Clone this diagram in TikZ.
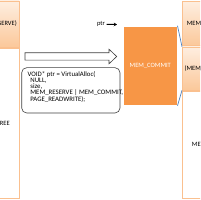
\documentclass[tikz,border=0pt]{standalone}
\usepackage{fontspec}
\setmainfont{Carlito}
\usetikzlibrary{arrows.meta}
\definecolor{gradtop}{HTML}{FEEEE0}
\definecolor{gradbot}{HTML}{FBC89A}
\definecolor{lightor}{HTML}{FAC08F}
\definecolor{commitor}{HTML}{F79646}
\definecolor{linkblue}{HTML}{4F81BD}
\definecolor{darkline}{HTML}{404040}
\begin{document}
\begin{tikzpicture}[x=1pt,y=-1pt,
  txt/.style={font=\fontsize{6.5}{6}\selectfont, text=black},
  codetxt/.style={font=\fontsize{6.8}{6}\selectfont, text=black},
  gradbox/.style={txt, draw=lightor, line width=0.6pt, top color=gradtop, bottom color=gradbot, minimum width=49.7pt, inner sep=0pt},
  plainbox/.style={txt, draw=lightor, line width=0.8pt, fill=white, minimum width=49.7pt, inner sep=0pt},
  commitbox/.style={txt, text=white, fill=commitor, draw=white, line width=0.4pt, minimum width=54pt, minimum height=79.5pt, inner sep=0pt},
  codebox/.style={draw=darkline, line width=0.6pt, fill=white, rounded corners=5pt, minimum width=98.3pt, minimum height=45.3pt, inner sep=0pt},
  hollow/.style={draw=darkline, line width=0.6pt, fill=white},
  link/.style={draw=linkblue, line width=0.7pt},
  ptrarrow/.style={draw=black, line width=0.9pt, -{Stealth[length=3.2pt,width=3.6pt]}}
]
\useasboundingbox (0,0) rectangle (200,200);
\clip (0,0) rectangle (200,200);
% left column
\node[gradbox, minimum height=46pt] (ltop) at (-5.5,24) {(MEM\_RESERVE)};
\node[plainbox, minimum height=150pt] (lbot) at (-5.5,123.5) {MEM\_FREE};
% right column
\node[gradbox, minimum height=44.3pt] (rtop) at (207.15,23.65) {MEM\_RESERVE};
\node[gradbox, minimum height=43pt] (rmid) at (207.15,68.5) {(MEM\_COMMIT)};
\node[plainbox, minimum height=107pt] (rbot) at (207.15,145) {MEM\_FREE};
% committed region
\node[commitbox] (commit) at (150.3,65.75) {MEM\_COMMIT};
\draw[link] (commit.north east) -- (rmid.north west);
\draw[link] (commit.south east) -- (rmid.south west);
% ptr
\node[txt, inner sep=1.5pt] (ptr) at (101,24.3) {ptr};
\coordinate (ptrtip) at (117,24.5);
\draw[ptrarrow] (ptr.east) -- (ptrtip);
% hollow arrow
\draw[hollow] (25,52.8) -- (109,52.8) -- (109,49.2) -- (116.7,56.5) -- (109,63.8) -- (109,60.2) -- (25,60.2) -- cycle;
% code box
\node[codebox] (code) at (70.85,90.35) {};
\node[codetxt, anchor=north west, align=left, inner sep=0pt] (codetext) at (27.5,71.4)
  {VOID* ptr = VirtualAlloc(\\
   \hspace*{2.7pt}NULL,\\
   \hspace*{2.7pt}size,\\
   \hspace*{2.7pt}MEM\_RESERVE | MEM\_COMMIT,\\
   \hspace*{2.7pt}PAGE\_READWRITE);};
\end{tikzpicture}
\end{document}
